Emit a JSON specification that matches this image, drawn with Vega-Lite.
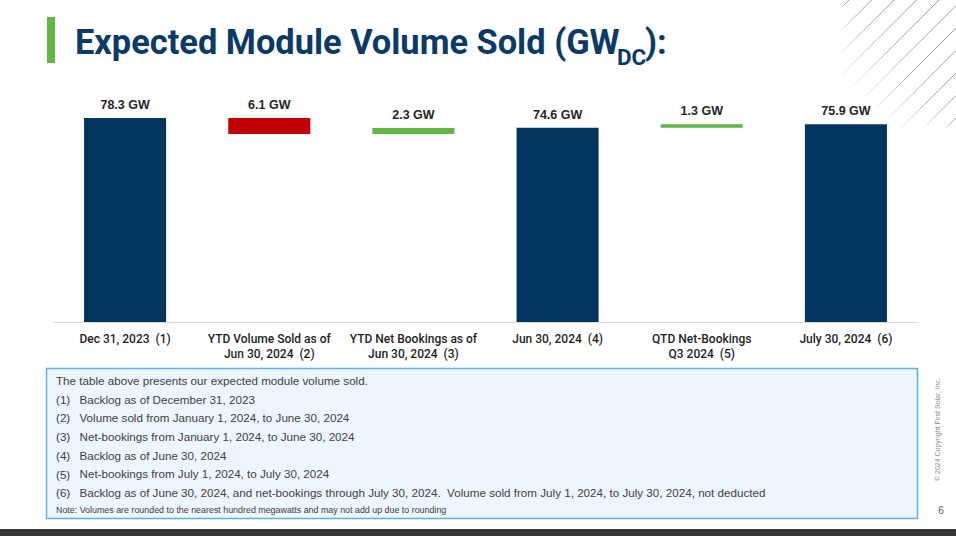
{
  "$schema": "https://vega.github.io/schema/vega-lite/v6.json",
  "width": 956,
  "height": 536,
  "autosize": {"type": "none"},
  "padding": 0,
  "background": "#ffffff",
  "config": {"view": {"stroke": null}, "font": "Liberation Sans"},
  "layer": [
    {
      "description": "Decorative diagonal hatching in the top-right corner",
      "data": {"values": [
        {"x": 849, "y": 0, "x2": 841, "y2": 8},
        {"x": 871.5, "y": 0, "x2": 841, "y2": 30.5},
        {"x": 894, "y": 0, "x2": 841, "y2": 53},
        {"x": 916.5, "y": 0, "x2": 841.25, "y2": 75.25},
        {"x": 939, "y": 0, "x2": 852.5, "y2": 86.5},
        {"x": 956, "y": 5.5, "x2": 863.75, "y2": 97.75},
        {"x": 956, "y": 28, "x2": 875, "y2": 109},
        {"x": 956, "y": 50.5, "x2": 886.25, "y2": 120.25},
        {"x": 956, "y": 73, "x2": 901, "y2": 128},
        {"x": 956, "y": 95.5, "x2": 923.5, "y2": 128},
        {"x": 956, "y": 118, "x2": 946, "y2": 128}
      ]},
      "mark": {
        "type": "rule",
        "strokeWidth": 1,
        "stroke": {
          "gradient": "linear",
          "x1": 1, "y1": 0, "x2": 0, "y2": 1,
          "stops": [
            {"offset": 0, "color": "#9a9a9a"},
            {"offset": 0.6, "color": "#b8b8b8"},
            {"offset": 1, "color": "#f0f0f0"}
          ]
        }
      },
      "encoding": {
        "x": {"field": "x", "type": "quantitative", "scale": {"domain": [0, 956], "nice": false, "zero": false}, "axis": null},
        "y": {"field": "y", "type": "quantitative", "scale": {"domain": [0, 536], "reverse": true, "nice": false, "zero": false}, "axis": null},
        "x2": {"field": "x2"},
        "y2": {"field": "y2"}
      }
    },
    {
      "description": "Green accent bar beside the title",
      "data": {"values": [{}]},
      "mark": {"type": "rect", "x": 47, "x2": 55, "y": 17, "y2": 63, "fill": "#62b646"}
    },
    {
      "data": {"values": [{}]},
      "mark": {"type": "text", "x": 75, "y": 54, "align": "left", "baseline": "alphabetic", "font": "Roboto", "fontWeight": "bold", "fontSize": 34.4, "fill": "#0b3a66", "text": "Expected Module Volume Sold (GW"}
    },
    {
      "data": {"values": [{}]},
      "mark": {"type": "text", "x": 617, "y": 65, "align": "left", "baseline": "alphabetic", "font": "Roboto", "fontWeight": "bold", "fontSize": 22.5, "fill": "#0b3a66", "text": "DC"}
    },
    {
      "data": {"values": [{}]},
      "mark": {"type": "text", "x": 645, "y": 54, "align": "left", "baseline": "alphabetic", "font": "Roboto", "fontWeight": "bold", "fontSize": 34.4, "fill": "#0b3a66", "text": "):"}
    },
    {
      "description": "Footnote panel",
      "data": {"values": [{}]},
      "mark": {"type": "rect", "x": 46.5, "x2": 917.5, "y": 368.5, "y2": 518.5, "fill": "#eef6fd", "stroke": "#5fb0e2", "strokeWidth": 1.5}
    },
    {
      "data": {"values": [{}]},
      "mark": {
        "type": "text", "x": 56, "y": 385, "align": "left", "baseline": "alphabetic",
        "fontSize": 11.65, "lineHeight": 18.7, "fill": "#404040",
        "text": [
          "The table above presents our expected module volume sold.",
          "(1)", "(2)", "(3)", "(4)", "(5)", "(6)"
        ]
      }
    },
    {
      "data": {"values": [{}]},
      "mark": {
        "type": "text", "x": 79.5, "y": 403.7, "align": "left", "baseline": "alphabetic",
        "fontSize": 11.65, "lineHeight": 18.7, "fill": "#404040",
        "text": [
          "Backlog as of December 31, 2023",
          "Volume sold from January 1, 2024, to June 30, 2024",
          "Net-bookings from January 1, 2024, to June 30, 2024",
          "Backlog as of June 30, 2024",
          "Net-bookings from July 1, 2024, to July 30, 2024",
          "Backlog as of June 30, 2024, and net-bookings through July 30, 2024.\u00a0 Volume sold from July 1, 2024, to July 30, 2024, not deducted"
        ]
      }
    },
    {
      "data": {"values": [{}]},
      "mark": {"type": "text", "x": 56, "y": 513, "align": "left", "baseline": "alphabetic", "fontSize": 8.9, "fill": "#404040", "text": "Note: Volumes are rounded to the nearest hundred megawatts and may not add up due to rounding"}
    },
    {
      "data": {"values": [{}]},
      "mark": {"type": "text", "x": 938, "y": 429.5, "angle": 270, "align": "center", "baseline": "middle", "fontSize": 7, "fill": "#8a8a8a", "text": "\u00a9 2024 Copyright First Solar, Inc."}
    },
    {
      "data": {"values": [{}]},
      "mark": {"type": "text", "x": 941, "y": 513.5, "align": "center", "baseline": "alphabetic", "fontSize": 10, "fill": "#595959", "text": "6"}
    },
    {
      "description": "Dark footer strip",
      "data": {"values": [{}]},
      "mark": {"type": "rect", "x": 0, "x2": 956, "y": 529, "y2": 536, "fill": "#363636"}
    },
    {
      "description": "Waterfall of expected module volume sold, GW DC",
      "data": {"values": [
        {"stage": "Dec 31, 2023\u00a0 (1)", "low": 0, "high": 78.3, "kind": "backlog", "amount": "78.3 GW"},
        {"stage": "YTD Volume Sold as of|Jun 30, 2024\u00a0 (2)", "low": 72.2, "high": 78.3, "kind": "sold", "amount": "6.1 GW"},
        {"stage": "YTD Net Bookings as of|Jun 30, 2024\u00a0 (3)", "low": 72.2, "high": 74.5, "kind": "booked", "amount": "2.3 GW"},
        {"stage": "Jun 30, 2024\u00a0 (4)", "low": 0, "high": 74.6, "kind": "backlog", "amount": "74.6 GW"},
        {"stage": "QTD Net-Bookings|Q3 2024\u00a0 (5)", "low": 74.6, "high": 75.9, "kind": "booked", "amount": "1.3 GW"},
        {"stage": "July 30, 2024\u00a0 (6)", "low": 0, "high": 75.9, "kind": "backlog", "amount": "75.9 GW"}
      ]},
      "encoding": {
        "x": {
          "field": "stage", "type": "nominal", "sort": null,
          "scale": {"range": [53, 918], "paddingInner": 0.431, "paddingOuter": 0.2155},
          "axis": {
            "title": null, "labelAngle": 0, "ticks": false, "tickSize": 0,
            "offset": -214, "domainColor": "#d9d9d9", "domainWidth": 1,
            "labelExpr": "split(datum.label, '|')",
            "labelFont": "Roboto", "labelFontSize": 12, "labelFontWeight": 500,
            "labelColor": "#1f1f1f", "labelBaseline": "alphabetic", "labelPadding": 20.5,
            "labelLineHeight": 15, "labelOverlap": false, "labelLimit": 200
          }
        }
      },
      "layer": [
        {
          "mark": {"type": "bar"},
          "encoding": {
            "y": {"field": "low", "type": "quantitative", "scale": {"domain": [0, 123.59], "range": [322, 0], "nice": false}, "axis": null},
            "y2": {"field": "high"},
            "color": {
              "field": "kind", "type": "nominal", "legend": null,
              "scale": {"domain": ["backlog", "sold", "booked"], "range": ["#01345e", "#c00000", "#62b646"]}
            }
          }
        },
        {
          "mark": {"type": "text", "baseline": "alphabetic", "dy": -9, "fontSize": 12.5, "fontWeight": "bold", "fill": "#262626"},
          "encoding": {
            "y": {"field": "high", "type": "quantitative"},
            "text": {"field": "amount"}
          }
        }
      ]
    }
  ],
  "resolve": {"scale": {"x": "independent", "y": "independent"}}
}
